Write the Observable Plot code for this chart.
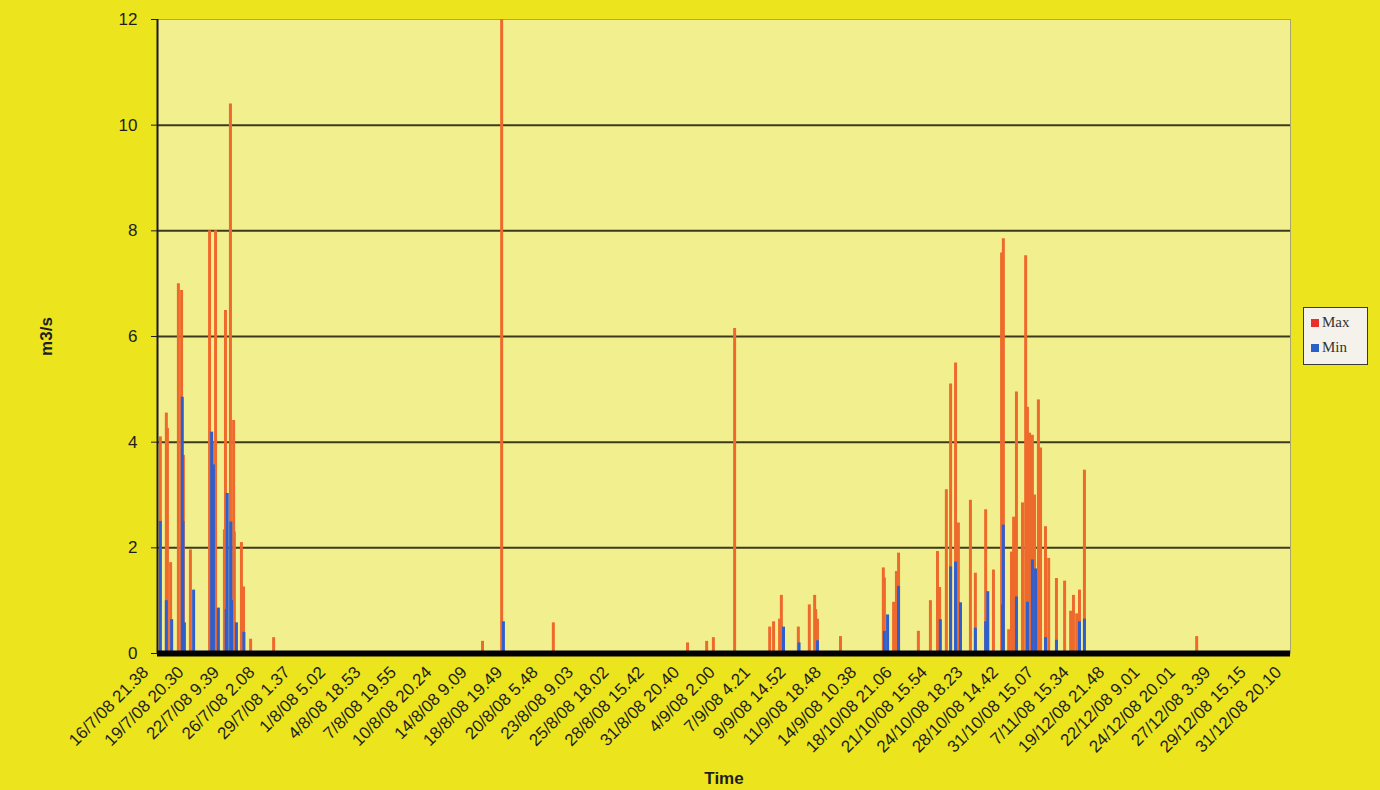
<!DOCTYPE html>
<html>
<head>
<meta charset="utf-8">
<script src="https://cdn.jsdelivr.net/npm/d3@7"></script>
<script src="https://cdn.jsdelivr.net/npm/@observablehq/plot@0.6"></script>
<style>
  html, body { margin: 0; padding: 0; background: #ece51e; overflow: hidden; }
  #wrap { position: relative; width: 1380px; height: 790px; }
  #chart svg { background: transparent; }
  g[aria-label="y-axis label"] text, g[aria-label="x-axis label"] text { font-weight: bold; }
  #legend { position: absolute; left: 1303px; top: 307px; width: 63px; height: 56px;
    border: 1.5px solid #3a3a3a; background: #f4f2ea; font-family: "Liberation Serif", serif;
    font-size: 15px; color: #333; }
  #legend .it { position: absolute; left: 7px; display: flex; align-items: center; }
  #legend .sw { width: 8px; height: 8px; margin-right: 3px; }
</style>
</head>
<body>
<div id="wrap">
  <div id="chart"></div>
  <div id="legend">
    <div class="it" style="top:6px"><div class="sw" style="background:#e8302a"></div>Max</div>
    <div class="it" style="top:31px"><div class="sw" style="background:#2a5ec8"></div>Min</div>
  </div>
</div>
<script>
const tickLabels = ["16/7/08 21.38","19/7/08 20.30","22/7/08 9.39","26/7/08 2.08","29/7/08 1.37","1/8/08 5.02","4/8/08 18.53","7/8/08 19.55","10/8/08 20.24","14/8/08 9.09","18/8/08 19.49","20/8/08 5.48","23/8/08 9.03","25/8/08 18.02","28/8/08 15.42","31/8/08 20.40","4/9/08 2.00","7/9/08 4.21","9/9/08 14.52","11/9/08 18.48","14/9/08 10.38","18/10/08 21.06","21/10/08 15.54","24/10/08 18.23","28/10/08 14.42","31/10/08 15.07","7/11/08 15.34","19/12/08 21.48","22/12/08 9.01","24/12/08 20.01","27/12/08 3.39","29/12/08 15.15","31/12/08 20.10"];
const labelEvery = 100; // records between labelled categories

const maxRec = [8,25,28,37,59,68,73,93,147,155,164,189,192,206,215,217,237,243,263,328,918,972,1118,1497,1551,1570,1630,1729,1740,1757,1762,1810,1841,1856,1859,1864,1929,2050,2053,2079,2087,2093,2149,2183,2203,2209,2228,2240,2254,2262,2296,2310,2339,2361,2384,2389,2404,2412,2418,2426,2443,2452,2457,2463,2471,2477,2488,2494,2508,2517,2539,2562,2579,2587,2596,2604,2618,2935];
const maxVal = [4.1,4.55,4.26,1.72,7.0,6.87,3.75,1.96,8.0,4.0,8.0,2.34,6.49,10.4,4.41,2.3,2.1,1.26,0.27,0.3,0.23,12.0,0.58,0.2,0.23,0.3,6.15,0.5,0.6,0.65,1.1,0.5,0.92,1.1,0.83,0.65,0.32,1.62,1.43,0.97,1.55,1.9,0.42,1.0,1.93,1.25,3.1,5.1,5.5,2.47,2.9,1.52,2.72,1.58,7.58,7.85,0.45,1.92,2.58,4.95,2.85,7.53,4.66,4.17,4.13,3.0,4.8,3.89,2.4,1.8,1.42,1.37,0.8,1.1,0.75,1.2,3.47,0.32];

const minRec = [8,25,40,70,72,76,102,153,158,172,194,197,207,209,223,244,977,1768,1812,1864,2053,2062,2093,2211,2240,2254,2268,2310,2339,2345,2387,2389,2426,2457,2471,2480,2508,2539,2604,2618];
const minVal = [2.5,1.0,0.64,4.85,2.5,0.58,1.2,4.19,3.57,0.86,0.83,3.03,2.49,1.0,0.58,0.4,0.6,0.5,0.2,0.24,0.42,0.73,1.27,0.64,1.64,1.73,0.96,0.48,0.6,1.17,0.92,2.43,1.07,0.97,1.77,1.6,0.3,0.25,0.6,0.65];

const yTicks = [0,2,4,6,8,10,12];
const gridVals = [2,4,6,8,10];

const maxData = maxRec.map((r, i) => ({rec: r, v: maxVal[i]}));
const minData = minRec.map((r, i) => ({rec: r, v: minVal[i]}));
const xTicks = tickLabels.map((_, i) => i * labelEvery);

const chart = Plot.plot({
  width: 1380,
  height: 790,
  marginLeft: 157,
  marginRight: 90,
  marginTop: 19,
  marginBottom: 137,
  style: {fontFamily: "'Liberation Sans', Arial, sans-serif", fontSize: "17px", color: "#1e1e1e", background: "transparent", overflow: "visible"},
  x: {domain: [0, (tickLabels.length - 1) * labelEvery]},
  y: {domain: [0, 12]},
  marks: [
    Plot.frame({fill: "#f2ef8e", stroke: "#a8a46a", strokeWidth: 1}),
    Plot.ruleY(gridVals, {stroke: "#3c3a1c", strokeWidth: 2}),
    Plot.ruleX(maxData, {x: "rec", y1: 0, y2: "v", stroke: "#ee6a2c", strokeWidth: 3}),
    Plot.ruleX(minData, {x: "rec", y1: 0, y2: "v", stroke: "#2f5fcc", strokeWidth: 3}),
    Plot.ruleX([0], {stroke: "#1a1a1a", strokeWidth: 2}),
    Plot.ruleY([0], {stroke: "#000", strokeWidth: 6}),
    Plot.axisY({ticks: yTicks, tickSize: 6, tickPadding: 14, tickFormat: d => d, fontSize: 17, label: "m3/s", labelAnchor: "center", labelArrow: "none", labelOffset: 118}),
    Plot.axisX({ticks: xTicks, tickSize: 0, tickPadding: 16, dx: -12, tickRotate: -45, tickFormat: d => tickLabels[Math.round(d / labelEvery)], fontSize: 17, label: "Time", labelAnchor: "center", labelArrow: "none", labelOffset: 130})
  ]
});
document.getElementById("chart").appendChild(chart);
</script>
</body>
</html>
